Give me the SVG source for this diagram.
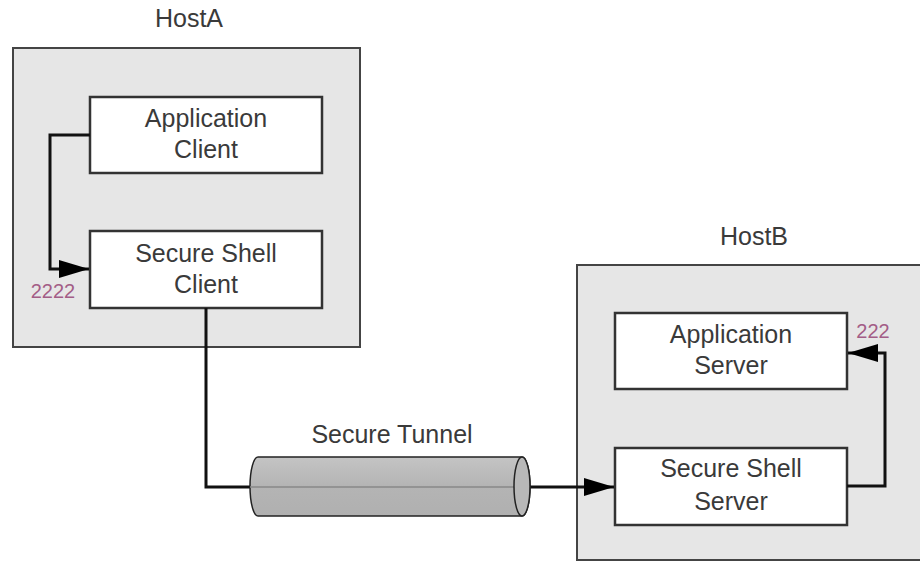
<svg xmlns="http://www.w3.org/2000/svg" width="920" height="562" viewBox="0 0 920 562">
<defs>
<style>
.host{fill:#e6e6e6;stroke:#444;stroke-width:2}
.node{fill:#fff;stroke:#333;stroke-width:2.5}
.t{font-family:"Liberation Sans",Arial,sans-serif;font-size:25px;fill:#3a3a3a;text-anchor:middle}
.port{font-family:"Liberation Sans",Arial,sans-serif;font-size:20px;fill:#a35d86;text-anchor:middle}
.conn{fill:none;stroke:#111;stroke-width:3}
</style>
<marker id="arr" markerWidth="10" markerHeight="6" refX="10" refY="3" orient="auto" markerUnits="strokeWidth">
<path d="M0,0 L10,3 L0,6 Z" fill="#000"/>
</marker>
<linearGradient id="cyl" x1="0" y1="0" x2="0" y2="1">
<stop offset="0" stop-color="#c4c4c4"/>
<stop offset="0.5" stop-color="#b4b4b4"/>
<stop offset="1" stop-color="#b0b0b0"/>
</linearGradient>
</defs>
<rect width="920" height="562" fill="#fff"/>
<g id="hostA">
<rect class="host" x="13" y="48" width="347" height="299"/>
<text class="t" x="189" y="27">HostA</text>
</g>
<g id="hostB">
<rect class="host" x="577" y="265" width="360" height="295"/>
<text class="t" x="754" y="245">HostB</text>
</g>
<g id="appClient">
<rect class="node" x="90" y="97" width="232" height="76"/>
<text class="t" x="206" y="127">Application</text>
<text class="t" x="206" y="158">Client</text>
</g>
<g id="sshClient">
<rect class="node" x="90" y="231" width="232" height="77"/>
<text class="t" x="206" y="262">Secure Shell</text>
<text class="t" x="206" y="293">Client</text>
</g>
<g id="appServer">
<rect class="node" x="615" y="313" width="232" height="76"/>
<text class="t" x="731" y="343">Application</text>
<text class="t" x="731" y="374">Server</text>
</g>
<g id="sshServer">
<rect class="node" x="615" y="448" width="232" height="77"/>
<text class="t" x="731" y="477">Secure Shell</text>
<text class="t" x="731" y="510">Server</text>
</g>
<g id="connectors">
<path class="conn" d="M90,135 H50 V269 H89" marker-end="url(#arr)"/>
<path class="conn" d="M206,308 V487 H252"/>
<path class="conn" d="M528,487 H614" marker-end="url(#arr)"/>
<path class="conn" d="M847,486 H885 V353 H848" marker-end="url(#arr)"/>
<text class="port" x="53" y="298">2222</text>
<text class="port" x="873" y="338">222</text>
</g>
<g id="tunnel">
<path d="M258,457 H522 A8,29.5 0 0 1 522,516 H258 A8,29.5 0 0 1 258,457 Z" fill="url(#cyl)" stroke="#222" stroke-width="1.5"/>
<line x1="250" y1="487" x2="522" y2="487" stroke="#888" stroke-width="1.5"/>
<ellipse cx="522" cy="486.5" rx="8" ry="29.5" fill="#b8b8b8" stroke="#222" stroke-width="1.5"/>
<text class="t" x="392" y="443">Secure Tunnel</text>
</g>
</svg>
